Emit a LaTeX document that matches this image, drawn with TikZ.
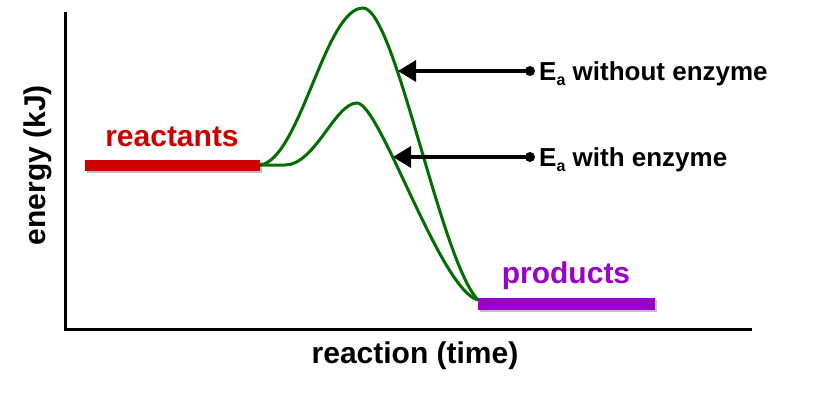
\documentclass[tikz,border=0pt]{standalone}
\usepackage{fontspec}
\setmainfont{Liberation Sans}
\usetikzlibrary{arrows.meta}

\definecolor{curvegreen}{RGB}{0,110,0}
\definecolor{reactred}{RGB}{204,0,0}
\definecolor{prodpurple}{RGB}{153,0,204}

\def\uppercurve{(260,165) .. controls (300,160) and (325,8) .. (363,8)
  .. controls (395,8) and (440,260) .. (478,300)}
\def\lowercurve{(260,165) -- (285,165) .. controls (315,165) and (335,103) .. (357,103)
  .. controls (380,103) and (440,290) .. (478,300)}
\newcommand{\Ea}{E\raisebox{-5pt}{\fontsize{16}{16}\selectfont a}}

\tikzset{
  bigtext/.style={font=\bfseries\fontsize{30}{34}\selectfont},
  eatext/.style={font=\bfseries\fontsize{26}{30}\selectfont, anchor=base west, inner sep=0pt},
  pointer/.style={line width=3.5pt, -{Triangle[length=18pt,width=21pt]}},
}

\begin{document}
\begin{tikzpicture}[x=1pt,y=-1pt]
  \useasboundingbox (0,0) rectangle (839,399);

  % axes
  \draw[line width=3pt] (65,12) -- (65,329) -- (752,329);
  \node[bigtext, rotate=90] (ylab) at (38,165) {energy (kJ)};
  \node[bigtext] (xlab) at (415,356) {reaction (time)};

  % levels
  \draw[line width=11pt, black!25] (87,167) -- (262,167);
  \draw[line width=11pt, reactred] (85,165) -- (260,165);
  \node[bigtext, text=reactred] (reac) at (172,137) {reactants};

  \draw[line width=12pt, black!25] (480,306) -- (657,306);
  \draw[line width=12pt, prodpurple] (478,304) -- (655,304);
  \node[bigtext, text=prodpurple] (prod) at (566,276) {products};

  % curves
  \draw[curvegreen, line width=3pt] \uppercurve;
  \draw[curvegreen, line width=3pt] \lowercurve;

  % activation energy labels
  \coordinate (tipA) at (398,71);
  \coordinate (tipB) at (393,157);
  \fill (530,71) circle (5) coordinate (dotA);
  \fill (530,157) circle (5) coordinate (dotB);
  \draw[pointer] (dotA) -- (tipA);
  \draw[pointer] (dotB) -- (tipB);
  \node[eatext] (eaA) at (539,80) {\Ea{} without enzyme};
  \node[eatext] (eaB) at (539,166) {\Ea{} with enzyme};

\end{tikzpicture}
\end{document}
